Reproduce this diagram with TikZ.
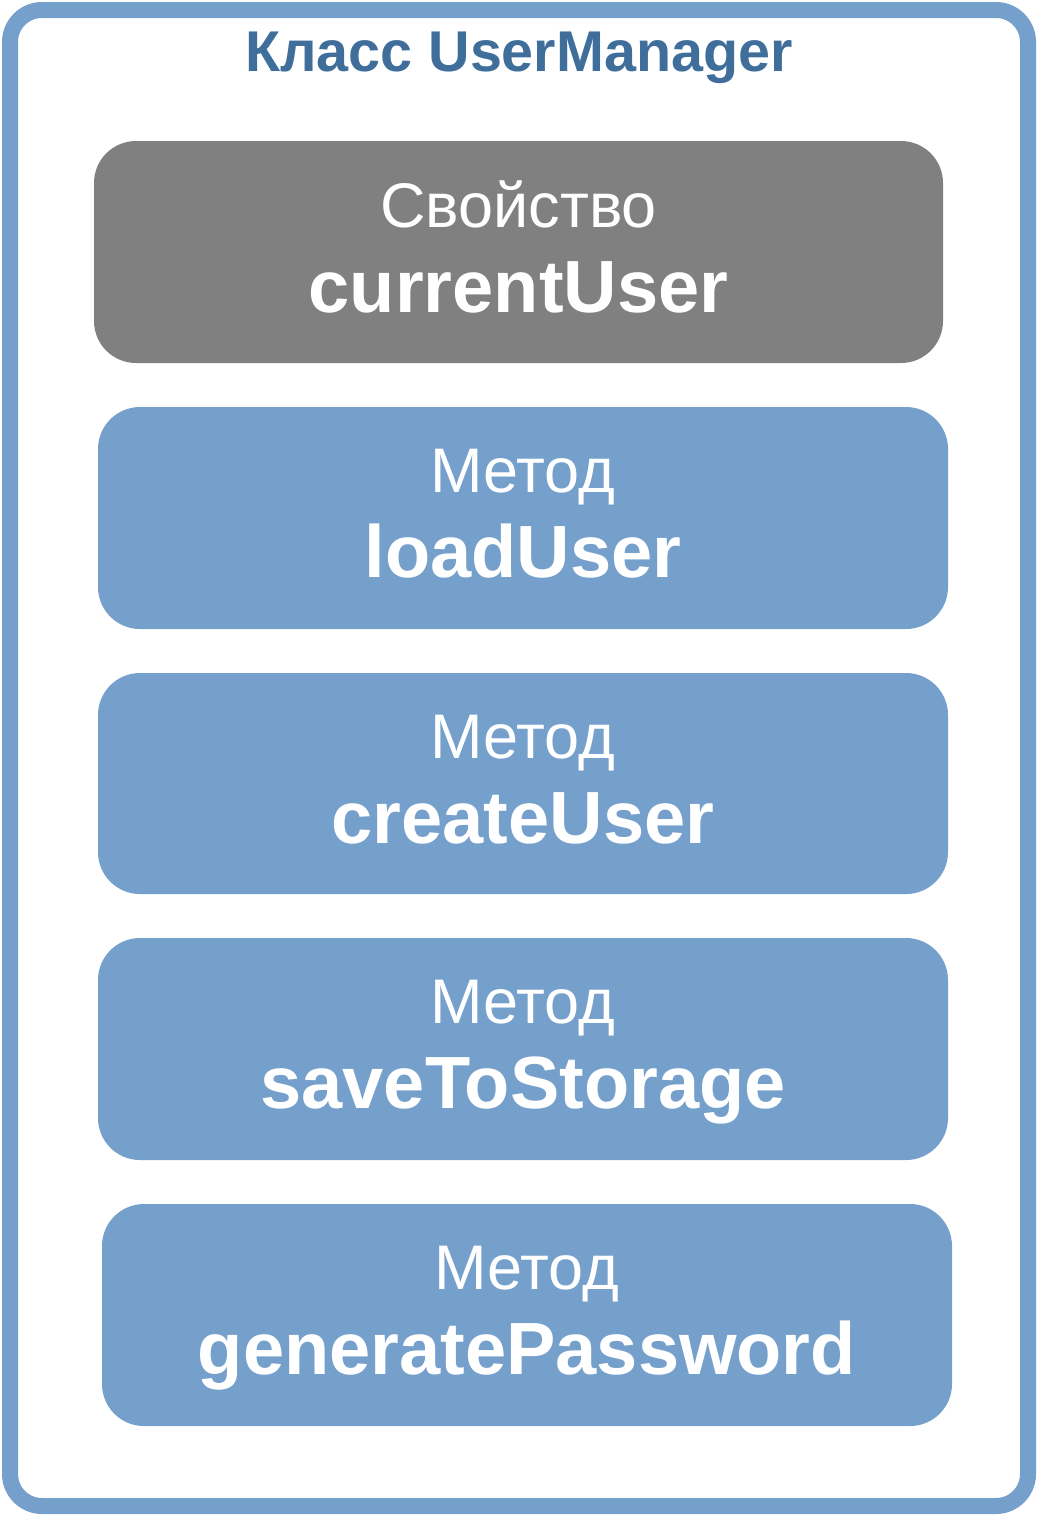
\documentclass[tikz,border=0pt]{standalone}
\usepackage{fontspec}
\setmainfont{Liberation Sans}
\definecolor{frameblue}{HTML}{76A0CC}
\definecolor{titleblue}{HTML}{3F6E9B}
\definecolor{boxgray}{HTML}{808080}
\tikzset{
  x=1pt,y=-1pt,
  card/.style={fill=frameblue, draw=none, rounded corners=42pt},
  propcard/.style={fill=boxgray, draw=none, rounded corners=42pt},
  kind/.style={text=white, anchor=base, inner sep=0pt, font=\fontsize{63}{70}\selectfont},
  member/.style={text=white, anchor=base, inner sep=0pt, font=\fontsize{74}{80}\selectfont\bfseries},
}
\begin{document}
\begin{tikzpicture}
\useasboundingbox (0,0) rectangle (1038,1516);
\draw[draw=frameblue, line width=16pt, rounded corners=32pt, fill=white] (10,10) rectangle (1028,1506);
\node[anchor=base, inner sep=0pt, text=titleblue, font=\fontsize{57.5}{64}\selectfont\bfseries] (title) at (519,71) {Класс UserManager};

\path[propcard] (94,141) rectangle (943,363);
\node[kind] (k1) at (518.5,227) {Свойство};
\node[member] (m1) at (518.5,312) {currentUser};

\path[card] (98,407) rectangle (948,629);
\node[kind] (k2) at (523,492) {Метод};
\node[member] (m2) at (523,577) {loadUser};

\path[card] (98,673) rectangle (948,894);
\node[kind] (k3) at (523,758) {Метод};
\node[member] (m3) at (523,843) {createUser};

\path[card] (98,938) rectangle (948,1160);
\node[kind] (k4) at (523,1023) {Метод};
\node[member] (m4) at (523,1108) {saveToStorage};

\path[card] (102,1204) rectangle (952,1426);
\node[kind] (k5) at (527,1289) {Метод};
\node[member] (m5) at (527,1374) {generatePassword};
\end{tikzpicture}
\end{document}
